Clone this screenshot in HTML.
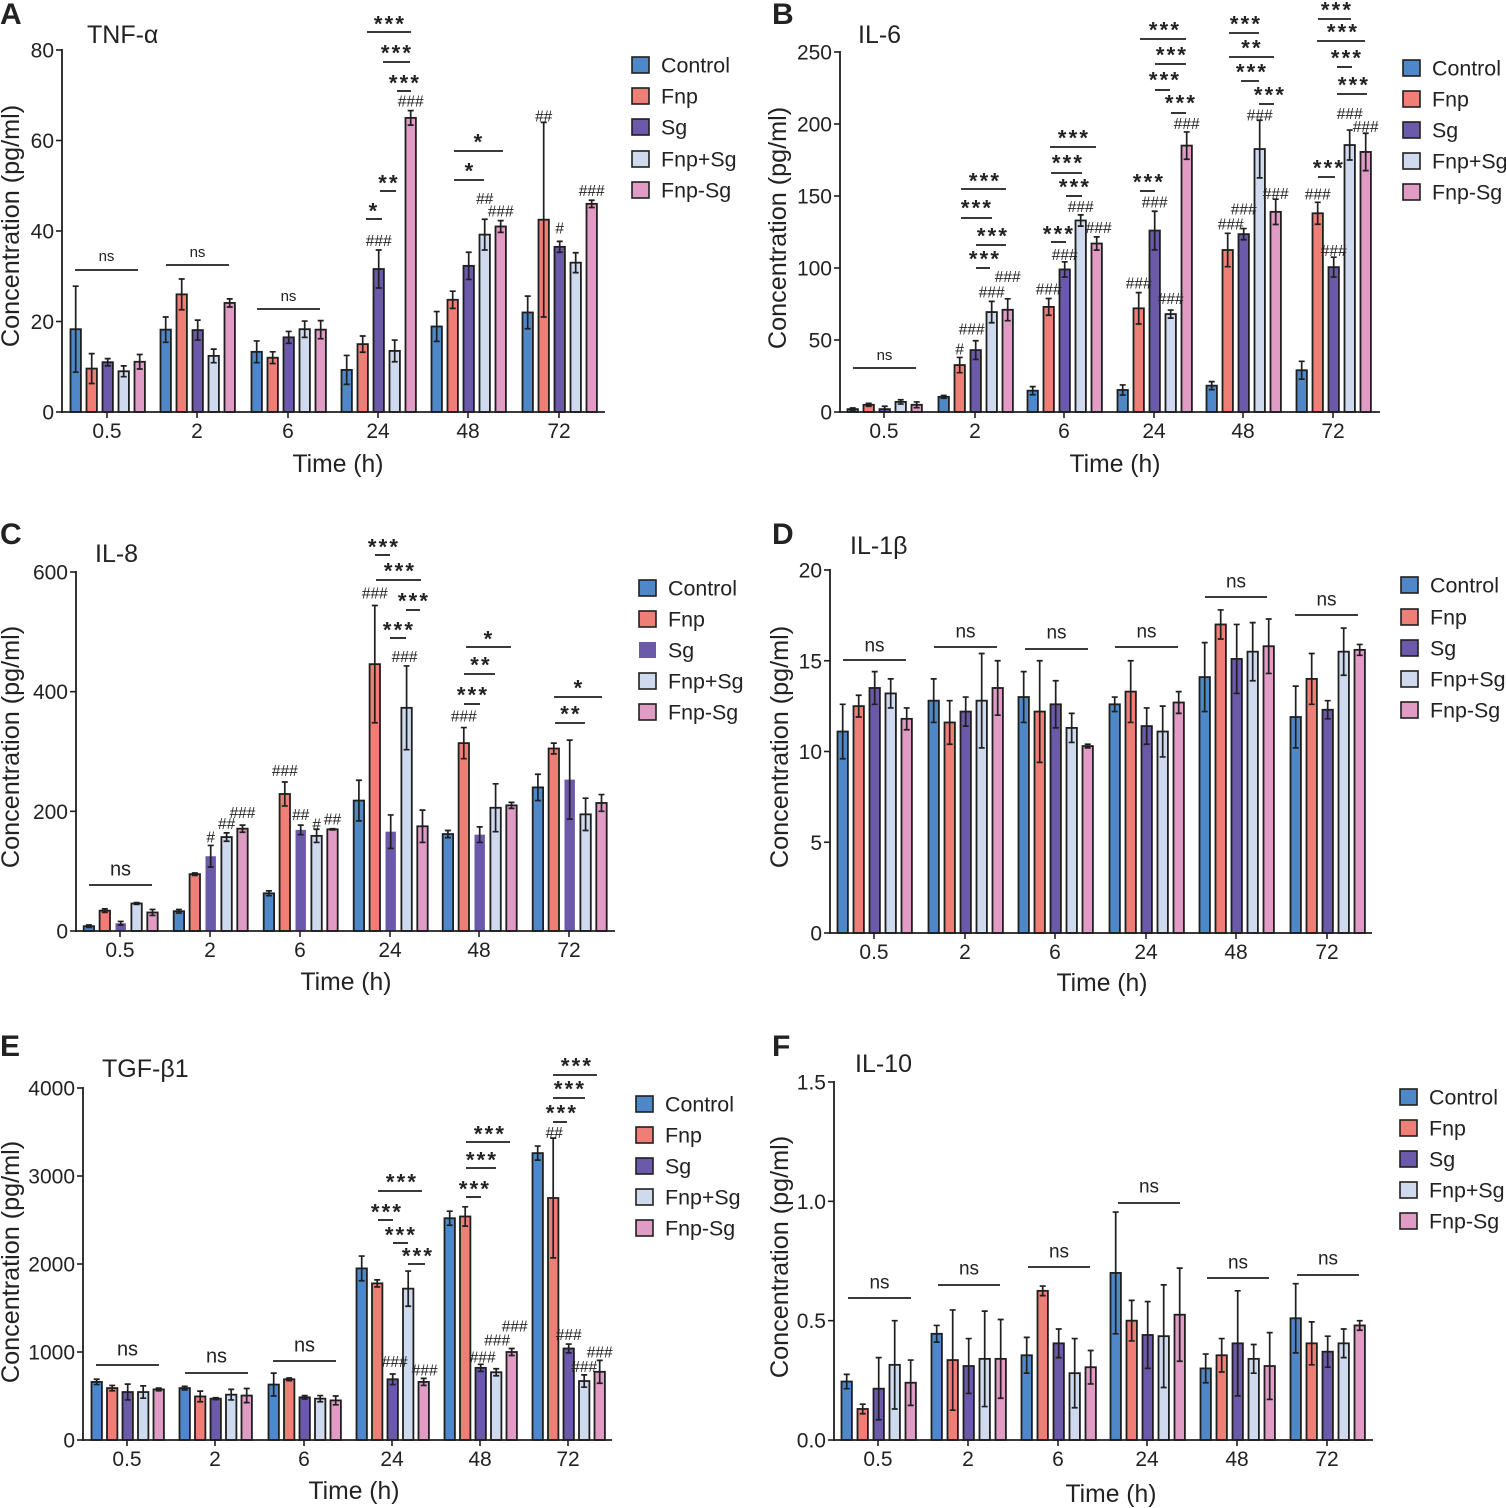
<!DOCTYPE html>
<html lang="en">
<head>
<meta charset="utf-8">
<title>Cytokine concentration over time</title>
<style>
html,body{margin:0;padding:0;background:#fff;}
svg{display:block;font-family:"Liberation Sans",Arial,sans-serif;}
text{fill:#222;}
</style>
</head>
<body>
<svg id="figure" width="1506" height="1508" viewBox="0 0 1506 1508" xmlns="http://www.w3.org/2000/svg"></svg>
<script>
const categories = ['0.5', '2', '6', '24', '48', '72'];
const seriesNames = ['Control', 'Fnp', 'Sg', 'Fnp+Sg', 'Fnp-Sg'];

const tnfTicks = ['0', '20', '40', '60', '80'];
const tnfMeans = [
  [18.3, 18.2, 13.3, 9.3, 18.9, 22],
  [9.6, 26, 12, 15, 24.8, 42.5],
  [11, 18.1, 16.5, 31.6, 32.3, 36.5],
  [9, 12.4, 18.3, 13.5, 39.2, 33],
  [11.1, 24.1, 18.2, 65, 41, 46]
];
const tnfErrors = [
  [9.5, 2.8, 2.4, 3.2, 3.3, 3.6],
  [3.3, 3.4, 1.3, 1.8, 1.9, 21.5],
  [0.8, 2.2, 1.3, 4.2, 3, 1.2],
  [1.2, 1.5, 1.8, 2.4, 3.4, 2.2],
  [1.6, 0.9, 2, 1.6, 1.3, 0.8]
];

const il6Ticks = ['0', '50', '100', '150', '200', '250'];
const il6Means = [
  [2, 10.5, 14.8, 15.3, 18.3, 29],
  [5, 32.6, 73, 72, 112.5, 138],
  [2, 43, 99, 126, 123.5, 100.6],
  [7, 69.4, 133, 68, 182.6, 185.4],
  [5, 71, 117, 185, 139, 180.6]
];
const il6Errors = [
  [0.8, 1, 2.8, 3.5, 2.8, 6.2],
  [1, 5.3, 5.8, 10.9, 11.6, 7.6],
  [2, 6.5, 5.3, 13.4, 3.9, 6.9],
  [1.5, 7.4, 3.9, 2.8, 20, 10.4],
  [2, 7.6, 4.6, 9.5, 8.8, 13]
];

const il8Ticks = ['0', '200', '400', '600'];
const il8Means = [
  [8, 33, 63, 218, 162, 240],
  [34, 95, 229, 446, 314, 305],
  [13, 125, 169, 166, 161, 253],
  [46, 157, 159, 373, 206, 195],
  [31, 171, 170, 175, 210, 214]
];
const il8Errors = [
  [2, 3, 4, 34, 6, 22],
  [3, 2, 20, 98, 26, 9],
  [3, 18, 8, 28, 13, 66],
  [1.5, 7, 11, 70, 40, 27],
  [5, 6, 1, 27, 5, 14]
];

const il1bTicks = ['0', '5', '10', '15', '20'];
const il1bMeans = [
  [11.1, 12.8, 13, 12.6, 14.1, 11.9],
  [12.5, 11.6, 12.2, 13.3, 17, 14],
  [13.5, 12.2, 12.6, 11.4, 15.1, 12.3],
  [13.2, 12.8, 11.3, 11.1, 15.5, 15.5],
  [11.8, 13.5, 10.3, 12.7, 15.8, 15.6]
];
const il1bErrors = [
  [1.5, 1.2, 1.4, 0.4, 1.9, 1.7],
  [0.6, 1.2, 2.8, 1.7, 0.8, 1.4],
  [0.9, 0.8, 1.3, 1, 1.9, 0.5],
  [0.8, 2.6, 0.8, 1.4, 1.6, 1.3],
  [0.6, 1.5, 0.1, 0.6, 1.5, 0.3]
];

const tgfTicks = ['0', '1000', '2000', '3000', '4000'];
const tgfMeans = [
  [660, 590, 630, 1950, 2520, 3260],
  [590, 495, 690, 1780, 2540, 2750],
  [545, 470, 485, 690, 820, 1040],
  [545, 515, 470, 1720, 770, 670],
  [575, 505, 450, 660, 1000, 775]
];
const tgfErrors = [
  [30, 20, 130, 140, 80, 80],
  [30, 60, 15, 40, 110, 680],
  [90, 10, 20, 60, 40, 50],
  [70, 60, 35, 200, 40, 70],
  [15, 80, 50, 40, 40, 130]
];

const il10Ticks = ['0.0', '0.5', '1.0', '1.5'];
const il10Means = [
  [0.245, 0.445, 0.355, 0.70, 0.30, 0.51],
  [0.13, 0.335, 0.625, 0.50, 0.355, 0.405],
  [0.215, 0.31, 0.405, 0.44, 0.405, 0.37],
  [0.315, 0.34, 0.28, 0.435, 0.34, 0.405],
  [0.24, 0.34, 0.305, 0.525, 0.31, 0.48]
];
const il10Errors = [
  [0.03, 0.035, 0.075, 0.255, 0.06, 0.145],
  [0.02, 0.21, 0.02, 0.085, 0.07, 0.09],
  [0.13, 0.115, 0.06, 0.14, 0.22, 0.065],
  [0.185, 0.2, 0.145, 0.215, 0.06, 0.06],
  [0.095, 0.165, 0.07, 0.195, 0.14, 0.02]
];

const COLORS = ['#4f88c8', '#ef7f76', '#6b59a9', '#cfdaee', '#e09cc5'];
const INK = '#1f1f1f';
const NS = 'http://www.w3.org/2000/svg';
const svg = document.getElementById('figure');

function make(tag, parent, attrs, text) {
  const node = document.createElementNS(NS, tag);
  for (const k in attrs) node.setAttribute(k, attrs[k]);
  if (text !== undefined) node.textContent = text;
  parent.appendChild(node);
  return node;
}

function buildPanel(p) {
  const g = make('g', svg, {});
  
  

  const yMax = parseFloat(p.ticks[p.ticks.length - 1]);
  const yScale = v => p.y0 - (v / yMax) * (p.y0 - p.yTop);
  const xScale = (group, series) => p.centers[group] + 0.7 + (series - 2) * p.step;
  p.yScale = yScale;
  p.xScale = xScale;
  p.group = g;

  const letter = make('text', g, { x: p.letterX, y: p.letterY, 'font-size': 30, 'font-weight': 'bold', fill: '#000' }, p.letter);
  
  

  const title = make('text', g, { x: p.titleX, y: p.titleY, 'font-size': 25 }, p.title);
  
  

  p.means.forEach((row, s) => {
    row.forEach((value, c) => {
      const x = xScale(c, s);
      const top = yScale(value);
      const outlined = !(p.noOutlineSeries === s);
      const bar = make('rect', g, {
        x: x - 5.2, y: top, width: 10.4, height: p.y0 - top,
        fill: COLORS[s], stroke: outlined ? INK : 'none', 'stroke-width': 1.8
      });
      
      

      const err = p.errors[s][c];
      const errTop = yScale(value + err);
      const errBottom = yScale(value - err);
      const whisker = make('path', g, {
        d: 'M' + x + ' ' + errTop + 'V' + errBottom +
           'M' + (x - 3) + ' ' + errTop + 'H' + (x + 3) +
           'M' + (x - 3) + ' ' + errBottom + 'H' + (x + 3),
        stroke: INK, 'stroke-width': 1.7, fill: 'none'
      });
      
      
    });
  });

  const yAxis = make('line', g, { x1: p.x0, x2: p.x0, y1: p.yTop - 1, y2: p.y0 + 1, stroke: INK, 'stroke-width': 1.8 });
  
  

  const xAxis = make('line', g, { x1: p.x0 - 1, x2: p.xEnd, y1: p.y0, y2: p.y0, stroke: INK, 'stroke-width': 1.8 });
  
  

  p.ticks.forEach(label => {
    const y = yScale(parseFloat(label));
    const tick = make('line', g, { x1: p.x0 - 6, x2: p.x0, y1: y, y2: y, stroke: INK, 'stroke-width': 1.6 });
    
    
    const tickText = make('text', g, { x: p.x0 - 8, y: y + 7.5, 'font-size': 21, 'text-anchor': 'end' }, label);
    
    
  });

  categories.forEach((label, c) => {
    const x = p.centers[c];
    const tick = make('line', g, { x1: x, x2: x, y1: p.y0, y2: p.y0 + 6, stroke: INK, 'stroke-width': 1.6 });
    
    
    const tickText = make('text', g, { x: x, y: p.y0 + 26, 'font-size': 21, 'text-anchor': 'middle' }, label);
    
    
  });

  const xTitle = make('text', g, { x: p.xTitleX, y: p.xTitleY, 'font-size': 24.7, 'text-anchor': 'middle' }, 'Time (h)');
  
  

  const yTitle = make('text', g, {
    x: 0, y: 0, 'font-size': 25.2, 'text-anchor': 'middle',
    transform: 'translate(' + p.yTitleX + ' ' + p.yTitleY + ') rotate(-90)'
  }, 'Concentration (pg/ml)');
  
  

  seriesNames.forEach((name, s) => {
    const rowY = p.legendY[s];
    const swatch = make('rect', g, {
      x: p.legendX + 1, y: rowY - 8, width: 17, height: 16, fill: COLORS[s],
      stroke: p.noOutlineSeries === s ? 'none' : INK, 'stroke-width': 1.6
    });
    
    
    const entry = make('text', g, { x: p.legendX + 30, y: rowY + 7.5, 'font-size': 21.4 }, name);
    
    
  });
}

function hash(p, series, cat, label, gap, dx) {
  const x = p.xScale(cat, series) + (dx || 0);
  const top = p.yScale(p.means[series][cat] + p.errors[series][cat]);
  const t = make('text', p.group, { x: x, y: top - gap, 'font-size': 15.5, 'text-anchor': 'middle', fill: '#1a1a1a' }, label);
  
  
}

function stars(p, x1, x2, lineY, label, cx, cy) {
  const rule = make('line', p.group, { x1: x1, x2: x2, y1: lineY, y2: lineY, stroke: INK, 'stroke-width': 1.8 });
  
  
  const t = make('text', p.group, { x: cx + 1, y: cy + 10.5, 'font-size': 22, 'font-weight': 'bold', 'text-anchor': 'middle', 'letter-spacing': 2.2, fill: '#000' }, label);
  
  
}

function ns(p, x1, x2, lineY, labelY, size) {
  const rule = make('line', p.group, { x1: x1, x2: x2, y1: lineY, y2: lineY, stroke: INK, 'stroke-width': 1.8 });
  
  
  const t = make('text', p.group, { x: (x1 + x2) / 2, y: labelY + size * 0.33, 'font-size': size, 'text-anchor': 'middle' }, 'ns');
  
  
}

const panelA = { letter: 'A', letterX: 0, letterY: 24, title: 'TNF-α', titleX: 87, titleY: 43, ticks: tnfTicks, means: tnfMeans, errors: tnfErrors,
  x0: 62, xEnd: 605, y0: 412, yTop: 50, step: 16, centers: [107, 197, 288, 378, 468, 559],
  xTitleX: 338, xTitleY: 472, yTitleX: 19, yTitleY: 226, legendX: 631, legendY: [65, 96, 127, 159, 190] };
const panelB = { letter: 'B', letterX: 772, letterY: 24, title: 'IL-6', titleX: 858, titleY: 43, ticks: il6Ticks, means: il6Means, errors: il6Errors,
  x0: 840, xEnd: 1380, y0: 412, yTop: 52, step: 16, centers: [884, 975, 1064, 1154, 1243, 1333],
  xTitleX: 1115, xTitleY: 472, yTitleX: 786, yTitleY: 228, legendX: 1402, legendY: [68, 99, 130, 161, 192] };
const panelC = { letter: 'C', letterX: 0, letterY: 544, title: 'IL-8', titleX: 95, titleY: 562, ticks: il8Ticks, means: il8Means, errors: il8Errors,
  x0: 76, xEnd: 615, y0: 931, yTop: 572, step: 15.9, centers: [120, 210, 300, 390, 479, 569], noOutlineSeries: 2,
  xTitleX: 346, xTitleY: 990, yTitleX: 19, yTitleY: 747, legendX: 638, legendY: [588, 619, 650, 681, 712] };
const panelD = { letter: 'D', letterX: 772, letterY: 544, title: 'IL-1β', titleX: 850, titleY: 554, ticks: il1bTicks, means: il1bMeans, errors: il1bErrors,
  x0: 830, xEnd: 1372, y0: 933, yTop: 570, step: 16, centers: [874, 965, 1055, 1146, 1236, 1327],
  xTitleX: 1102, xTitleY: 991, yTitleX: 788, yTitleY: 747, legendX: 1400, legendY: [585, 617, 648, 679, 710] };
const panelE = { letter: 'E', letterX: 0, letterY: 1056, title: 'TGF-β1', titleX: 102, titleY: 1077, ticks: tgfTicks, means: tgfMeans, errors: tgfErrors,
  x0: 83, xEnd: 612, y0: 1440, yTop: 1088, step: 15.5, centers: [127, 215, 304, 392, 480, 568],
  xTitleX: 354, xTitleY: 1499, yTitleX: 19, yTitleY: 1262, legendX: 635, legendY: [1104, 1135, 1166, 1197, 1228] };
const panelF = { letter: 'F', letterX: 772, letterY: 1056, title: 'IL-10', titleX: 855, titleY: 1072, ticks: il10Ticks, means: il10Means, errors: il10Errors,
  x0: 834, xEnd: 1373, y0: 1440, yTop: 1082, step: 16, centers: [878, 968, 1058, 1147, 1237, 1327],
  xTitleX: 1111, xTitleY: 1502, yTitleX: 788, yTitleY: 1257, legendX: 1399, legendY: [1097, 1128, 1159, 1190, 1221] };

[panelA, panelB, panelC, panelD, panelE, panelF].forEach(buildPanel);

/* Panel A annotations */
ns(panelA, 75, 138, 270, 256, 15);
ns(panelA, 166, 229, 265, 252, 15);
ns(panelA, 257, 320, 309, 296, 15);
stars(panelA, 366, 382, 219, '*', 373, 208);
stars(panelA, 380, 396, 191, '**', 388, 180);
stars(panelA, 367, 411, 32, '***', 389, 21);
stars(panelA, 383, 410, 62, '***', 396, 50);
stars(panelA, 397, 411, 91, '***', 404, 80);
stars(panelA, 454, 503, 151, '*', 478, 139);
stars(panelA, 454, 484, 180, '*', 469, 168);
hash(panelA, 2, 3, '###', 4);
hash(panelA, 4, 3, '###', 4);
hash(panelA, 3, 4, '##', 15);
hash(panelA, 4, 4, '###', 4);
hash(panelA, 1, 5, '##', 1);
hash(panelA, 2, 5, '#', 8);
hash(panelA, 4, 5, '###', 4);

/* Panel B annotations */
ns(panelB, 853, 916, 368, 355, 15);
stars(panelB, 961, 1006, 189, '***', 984, 178);
stars(panelB, 961, 992, 218, '***', 976, 205);
stars(panelB, 976, 1006, 245, '***', 992, 233);
stars(panelB, 976, 990, 268, '***', 984, 256);
stars(panelB, 1050, 1096, 147, '***', 1073, 135);
stars(panelB, 1051, 1082, 173, '***', 1067, 160);
stars(panelB, 1066, 1082, 196, '***', 1074, 184);
stars(panelB, 1051, 1066, 242, '***', 1058, 231);
stars(panelB, 1140, 1186, 39, '***', 1164, 27);
stars(panelB, 1155, 1186, 64, '***', 1171, 52);
stars(panelB, 1155, 1170, 90, '***', 1164, 77);
stars(panelB, 1171, 1186, 113, '***', 1180, 100);
stars(panelB, 1140, 1155, 191, '***', 1148, 179);
stars(panelB, 1229, 1259, 33, '***', 1245, 21);
stars(panelB, 1229, 1274, 57, '**', 1251, 45);
stars(panelB, 1241, 1259, 81, '***', 1251, 69);
stars(panelB, 1259, 1274, 104, '***', 1269, 92);
stars(panelB, 1318, 1351, 19, '***', 1336, 7);
stars(panelB, 1317, 1365, 41, '***', 1342, 29);
stars(panelB, 1337, 1352, 67, '***', 1346, 55);
stars(panelB, 1337, 1367, 94, '***', 1353, 82);
stars(panelB, 1318, 1335, 177, '***', 1328, 165);
hash(panelB, 1, 1, '#', 3);
hash(panelB, 2, 1, '###', 6, -4);
hash(panelB, 3, 1, '###', 4);
hash(panelB, 4, 1, '###', 17);
hash(panelB, 1, 2, '###', 4);
hash(panelB, 2, 2, '###', 2);
hash(panelB, 3, 2, '###', 3);
hash(panelB, 4, 2, '###', 4, 2);
hash(panelB, 1, 3, '###', 4);
hash(panelB, 2, 3, '###', 4);
hash(panelB, 3, 3, '###', 6);
hash(panelB, 4, 3, '###', 3);
hash(panelB, 1, 4, '###', 4, 3);
hash(panelB, 2, 4, '###', 14);
hash(panelB, 3, 4, '###', 0);
hash(panelB, 4, 4, '###', 0);
hash(panelB, 1, 5, '###', 3);
hash(panelB, 2, 5, '###', 1);
hash(panelB, 3, 5, '###', 11);
hash(panelB, 4, 5, '###', 1);

/* Panel C annotations */
ns(panelC, 89, 152, 885, 869, 20);
stars(panelC, 375, 390, 555, '***', 383, 544);
stars(panelC, 376, 421, 580, '***', 399, 568);
stars(panelC, 406, 420, 610, '***', 413, 598);
stars(panelC, 390, 406, 638, '***', 398, 627);
stars(panelC, 466, 511, 647, '*', 488, 636);
stars(panelC, 464, 495, 674, '**', 480, 662);
stars(panelC, 464, 480, 704, '***', 472, 692);
stars(panelC, 554, 602, 697, '*', 578, 685);
stars(panelC, 555, 585, 723, '**', 570, 711);
hash(panelC, 2, 1, '#', 3);
hash(panelC, 3, 1, '##', 4);
hash(panelC, 4, 1, '###', 7);
hash(panelC, 1, 2, '###', 6);
hash(panelC, 2, 2, '##', 5);
hash(panelC, 3, 2, '#', 0);
hash(panelC, 4, 2, '##', 4);
hash(panelC, 1, 3, '###', 7);
hash(panelC, 3, 3, '###', 4, -2);
hash(panelC, 1, 4, '###', 6);

/* Panel D annotations */
ns(panelD, 843, 906, 660, 645, 19);
ns(panelD, 934, 997, 647, 631, 19);
ns(panelD, 1025, 1088, 649, 632, 19);
ns(panelD, 1115, 1178, 647, 631, 19);
ns(panelD, 1205, 1267, 597, 581, 19);
ns(panelD, 1295, 1358, 615, 599, 19);

/* Panel E annotations */
ns(panelE, 96, 159, 1365, 1349, 20);
ns(panelE, 185, 248, 1373, 1356, 20);
ns(panelE, 273, 336, 1361, 1345, 20);
stars(panelE, 378, 422, 1191, '***', 401, 1179);
stars(panelE, 378, 393, 1220, '***', 386, 1209);
stars(panelE, 393, 408, 1243, '***', 400, 1232);
stars(panelE, 408, 425, 1264, '***', 417, 1253);
stars(panelE, 466, 510, 1142, '***', 489, 1131);
stars(panelE, 466, 496, 1168, '***', 481, 1157);
stars(panelE, 466, 481, 1197, '***', 474, 1186);
stars(panelE, 553, 597, 1075, '***', 576, 1063);
stars(panelE, 553, 585, 1098, '***', 569, 1086);
stars(panelE, 553, 567, 1122, '***', 561, 1110);
hash(panelE, 2, 3, '###', 7, 2);
hash(panelE, 4, 3, '###', 3, 1);
hash(panelE, 2, 4, '###', 2, 2);
hash(panelE, 3, 4, '###', 23, 1);
hash(panelE, 4, 4, '###', 17, 3);
hash(panelE, 1, 5, '##', 0, 1);
hash(panelE, 2, 5, '###', 4);
hash(panelE, 3, 5, '###', 3);
hash(panelE, 4, 5, '###', 3);

/* Panel F annotations */
ns(panelF, 848, 911, 1298, 1282, 19);
ns(panelF, 938, 1000, 1285, 1268, 19);
ns(panelF, 1028, 1090, 1267, 1251, 19);
ns(panelF, 1118, 1180, 1203, 1186, 19);
ns(panelF, 1207, 1269, 1278, 1262, 19);
ns(panelF, 1297, 1359, 1275, 1258, 19);
</script>
</body>
</html>
